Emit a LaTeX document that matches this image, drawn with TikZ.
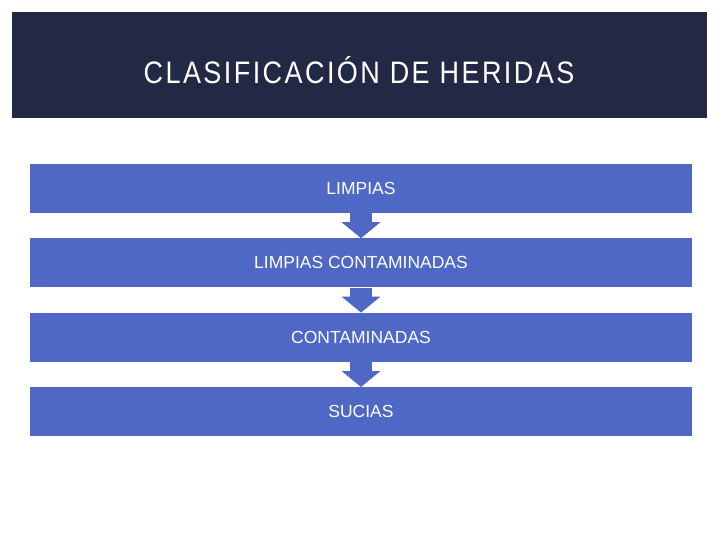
\documentclass[tikz,border=0pt]{standalone}
\usepackage{fontspec}
\setmainfont{Liberation Sans}
\newfontfamily\titlefont[LetterSpace=9]{Liberation Sans}
\usetikzlibrary{positioning, arrows.meta}

\definecolor{navyband}{HTML}{232844}
\definecolor{barblue}{HTML}{4F67C5}

\tikzset{
  heading/.style={font=\titlefont\fontsize{27}{30}\selectfont, text=white, inner sep=0pt},
  bar/.style={fill=barblue, minimum width=662pt, minimum height=49pt, inner sep=0pt,
              text=white, font=\fontsize{17.5}{20}\selectfont},
  flow/.style={barblue, line width=22pt, -{Triangle[width=38pt, length=16pt]}}
}

\begin{document}
\begin{tikzpicture}[x=1pt, y=-1pt, node distance=25pt]

\useasboundingbox (0,0) rectangle (720,540);
\fill[white] (0,0) rectangle (720,540);

% Title band
\fill[navyband] (12,12) rectangle (707,118);
\node[heading] (title) at (359,70.5) {\scalebox{1}[1.15]{CLASIFICACIÓN DE HERIDAS}};

% Bars
\node[bar] (limpias) at (361,188.5) {LIMPIAS};
\node[bar, below=of limpias] (limpcont) {LIMPIAS CONTAMINADAS};
\node[bar, below=of limpcont] (contam) {CONTAMINADAS};
\node[bar, below=of contam] (sucias) {SUCIAS};

% Arrows between bars
\draw[flow] (limpias.south) -- (limpcont.north);
\draw[flow] (limpcont.south) -- (contam.north);
\draw[flow] (contam.south) -- (sucias.north);

\end{tikzpicture}
\end{document}
